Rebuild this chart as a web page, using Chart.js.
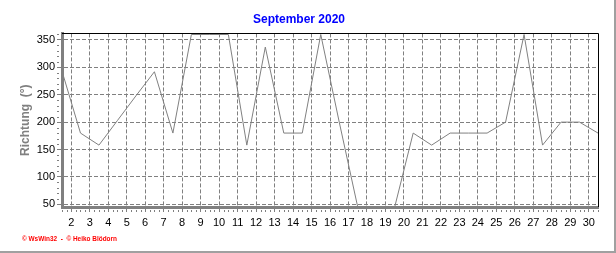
<!DOCTYPE html>
<html>
<head>
<meta charset="utf-8">
<script src="https://cdn.jsdelivr.net/npm/chart.js@4/dist/chart.umd.min.js"></script>
<style>
  html, body { margin: 0; padding: 0; background: #fff; }
  #frame { width: 614px; height: 251px; border-right: 2px solid #a0a0a0; border-bottom: 2px solid #a0a0a0; }
  canvas { display: block; }
</style>
</head>
<body>
<div id="frame"><canvas id="chart" width="614" height="251"></canvas></div>
<script>
/* ── Data: wind direction per day, September 2020 ── */
const days      = [1, 2, 3, 4, 5, 6, 7, 8, 9, 10, 11, 12, 13, 14, 15, 16, 17, 18, 19, 20, 21, 22, 23, 24, 25, 26, 27, 28, 29, 30];
const direction = [293, 180, 158, 203, 248, 292, 180, 360, 360, 360, 158, 337, 180, 180, 360, 200, 45, 45, 45, 180, 158, 180, 180, 180, 200, 360, 158, 200, 200, 180];
const xTicks    = [2, 3, 4, 5, 6, 7, 8, 9, 10, 11, 12, 13, 14, 15, 16, 17, 18, 19, 20, 21, 22, 23, 24, 25, 26, 27, 28, 29, 30];
const yTicks    = [50, 100, 150, 200, 250, 300, 350];

const GRID = '#808080';

/* ── Frame, minor ticks and footer ── */
const extras = {
  id: 'extras',
  afterDraw(chart) {
    const { ctx, chartArea: a, scales: { x, y } } = chart;
    ctx.save();

    // black top + right border of plot
    ctx.strokeStyle = '#000';
    ctx.lineWidth = 1;
    ctx.beginPath();
    ctx.moveTo(a.left, Math.round(a.top) + 0.5);
    ctx.lineTo(Math.round(a.right) + 0.5, Math.round(a.top) + 0.5);
    ctx.lineTo(Math.round(a.right) + 0.5, a.bottom);
    ctx.stroke();

    // minor ticks
    ctx.strokeStyle = GRID;
    ctx.beginPath();
    for (let v = 50; v <= y.max; v += 10) {
      if (v % 50 === 0) continue;
      const py = Math.round(y.getPixelForValue(v)) + 0.5;
      ctx.moveTo(a.left - 5, py);
      ctx.lineTo(a.left - 3, py);
    }
    for (let d = Math.ceil(x.min * 4) / 4; d <= x.max; d += 0.25) {
      if (Number.isInteger(d)) continue;
      const px = Math.round(x.getPixelForValue(d)) + 0.5;
      ctx.moveTo(px, a.bottom + 3);
      ctx.lineTo(px, a.bottom + 5);
    }
    ctx.stroke();

    // footer
    ctx.fillStyle = '#ff0000';
    ctx.font = 'bold 7px Arial';
    ctx.textBaseline = 'middle';
    ctx.fillText('\u00a9 WsWin32  -  \u00a9 Heiko Blödorn', 22, 239, 95);
    ctx.restore();
  }
};

new Chart(document.getElementById('chart'), {
  type: 'line',
  data: {
    datasets: [{
      data: days.map((d, i) => ({ x: d + 0.5, y: direction[i] })),
      borderColor: '#808080',
      borderWidth: 1,
      pointRadius: 0,
      tension: 0,
    }]
  },
  options: {
    responsive: false,
    animation: false,
    layout: { padding: { left: 0, right: 16, top: 0, bottom: 0 } },
    plugins: {
      legend: { display: false },
      tooltip: { enabled: false },
      title: {
        display: true,
        text: 'September 2020',
        color: '#0000ff',
        font: { family: 'Arial', size: 12, weight: 'bold' },
        padding: { top: 12, bottom: 7 },
      }
    },
    scales: {
      x: {
        type: 'linear',
        min: 1.5,
        max: 30.5,
        afterBuildTicks: s => { s.ticks = xTicks.map(v => ({ value: v })); },
        afterFit: s => { s.height = 44; },
        grid: { color: GRID, lineWidth: 1, tickLength: 5, tickColor: GRID },
        border: { color: GRID, width: 3, dash: [4, 2] },
        ticks: {
          color: '#000',
          font: { family: 'Arial', size: 11 },
          autoSkip: false,
          maxRotation: 0,
          padding: 4,
        }
      },
      y: {
        min: 45,
        max: 362,
        afterBuildTicks: s => { s.ticks = yTicks.map(v => ({ value: v })); },
        afterFit: s => { s.width = 62; },
        grid: { color: GRID, lineWidth: 1, tickLength: 5, tickColor: GRID },
        border: { color: GRID, width: 3, dash: [4, 2] },
        ticks: {
          color: '#000',
          font: { family: 'Arial', size: 11 },
          padding: 2,
        },
        title: {
          display: true,
          text: 'Richtung  (°)',
          color: '#808080',
          font: { family: 'Arial', size: 12, weight: 'bold' },
          padding: { top: 18, bottom: 0 },
        }
      }
    }
  },
  plugins: [extras]
});
</script>
</body>
</html>
